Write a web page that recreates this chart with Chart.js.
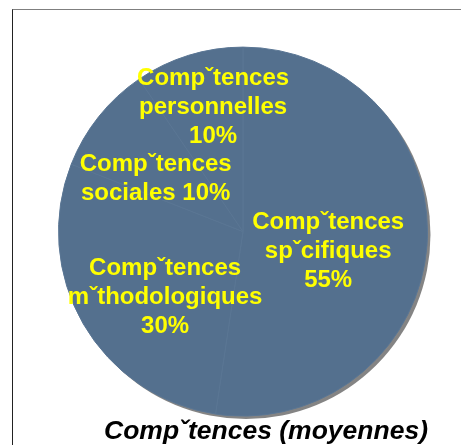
<!DOCTYPE html>
<html>
<head>
<meta charset="utf-8">
<script src="https://cdn.jsdelivr.net/npm/chart.js@4"></script>
<style>
    html, body { margin: 0; padding: 0; background: #fff; overflow: hidden; }
    #wrap { position: relative; width: 461px; height: 445px; }
    #cadre {
        position: absolute; left: 12px; top: 9px; width: 500px; height: 500px;
        border-top: 1px solid #7f7f7f; border-left: 1px solid #222;
    }
    canvas { position: absolute; left: 0; top: 0; }
</style>
</head>
<body>
<div id="wrap">
    <div id="cadre"></div>
    <canvas id="competencesChart" width="461" height="445"></canvas>
</div>
<script>
const categories = [
    ['Compˇtences', 'spˇcifiques'],
    ['Compˇtences', 'mˇthodologiques'],
    ['Compˇtences', 'sociales'],
    ['Compˇtences', 'personnelles']
];
const valeurs = [55, 30, 10, 10];
const titre = 'Compˇtences (moyennes)';

// petits decalages des etiquettes (style), relatifs au milieu de chaque part
const decalages = [[-16, 12], [10, 15], [-8, 11], [0, -27]];

const ombrePlugin = {
    id: 'ombre',
    beforeDatasetsDraw(chart) {
        const arc = chart.getDatasetMeta(0).data[0];
        if (!arc) return;
        const ctx = chart.ctx;
        ctx.save();
        ctx.fillStyle = '#848484';
        ctx.beginPath();
        ctx.arc(arc.x + 3, arc.y + 3, arc.outerRadius, 0, Math.PI * 2);
        ctx.fill();
        ctx.restore();
    }
};

const etiquettesPlugin = {
    id: 'etiquettes',
    afterDatasetsDraw(chart) {
        const ctx = chart.ctx;
        const meta = chart.getDatasetMeta(0);
        ctx.save();
        ctx.font = 'bold 24px "Liberation Sans", Arial, sans-serif';
        ctx.fillStyle = '#ffff00';
        ctx.textAlign = 'center';
        ctx.textBaseline = 'middle';
        meta.data.forEach(function(arc, i) {
            const mid = (arc.startAngle + arc.endAngle) / 2;
            const r = arc.outerRadius * 0.55;
            const cx = arc.x + Math.cos(mid) * r + decalages[i][0];
            const cy = arc.y + Math.sin(mid) * r + decalages[i][1];
            let lignes;
            if (i === 2) {
                lignes = [categories[i][0], categories[i][1] + ' ' + valeurs[i] + '%'];
            } else {
                lignes = categories[i].concat([valeurs[i] + '%']);
            }
            const lh = 29;
            const y0 = cy - (lignes.length - 1) * lh / 2;
            lignes.forEach(function(t, k) {
                ctx.fillText(t, cx, y0 + k * lh);
            });
        });
        ctx.restore();
    }
};

const ctxComp = document.getElementById('competencesChart').getContext('2d');
new Chart(ctxComp, {
    type: 'pie',
    data: {
        labels: categories.map(function(c) { return c.join(' '); }),
        datasets: [{
            data: valeurs,
            backgroundColor: '#54708e',
            borderColor: '#5a7694',
            borderWidth: 1
        }]
    },
    options: {
        responsive: false,
        animation: false,
        rotation: 0,
        layout: { padding: { left: 58, right: 33, top: 46, bottom: 0 } },
        plugins: {
            legend: { display: false },
            tooltip: { enabled: false },
            title: {
                display: true,
                position: 'bottom',
                align: 'end',
                text: titre,
                color: '#000',
                font: { family: '"Liberation Sans", Arial, sans-serif', size: 26.5, weight: 'bold', style: 'italic' },
                padding: { top: -1, bottom: -3 }
            }
        }
    },
    plugins: [ombrePlugin, etiquettesPlugin]
});
</script>
</body>
</html>
